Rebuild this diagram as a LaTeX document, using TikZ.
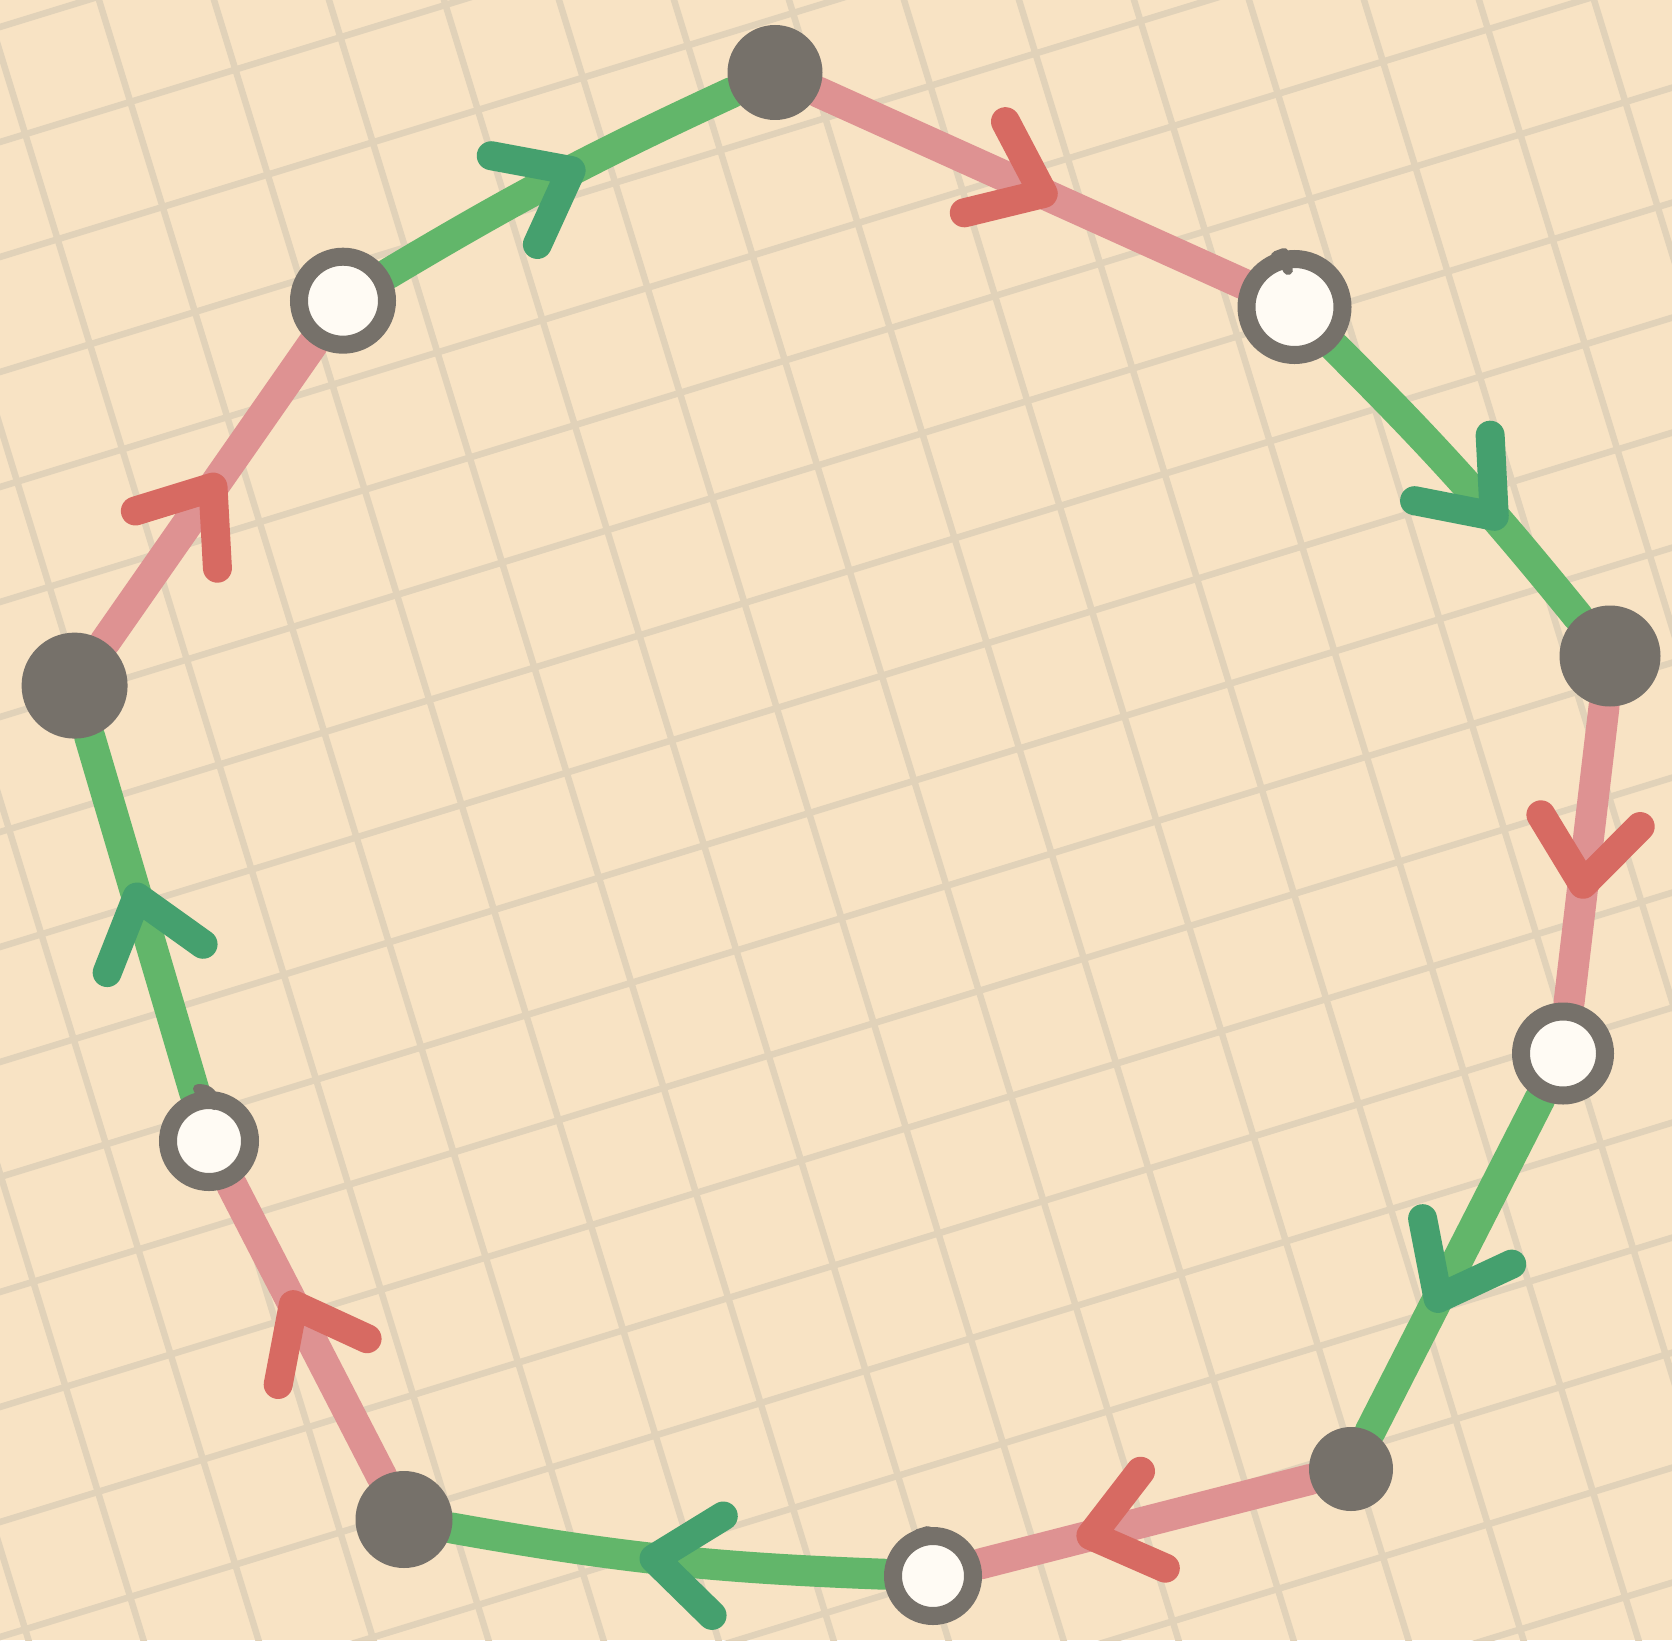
\documentclass[tikz,border=0pt]{standalone}
\usetikzlibrary{decorations.markings}
\definecolor{bgc}{RGB}{248,227,196}
\definecolor{gridc}{RGB}{225,210,185}
\definecolor{gedge}{RGB}{98,182,106}
\definecolor{garrow}{RGB}{69,160,110}
\definecolor{pedge}{RGB}{222,146,146}
\definecolor{parrow}{RGB}{215,106,98}
\definecolor{ngray}{RGB}{118,113,106}
\definecolor{nwhite}{RGB}{255,251,244}
\pgfdeclarelayer{gridlayer}
\pgfdeclarelayer{edgelayer}
\pgfsetlayers{gridlayer,edgelayer,main}
\tikzset{
 gridline/.style={draw=gridc, line width=6.5pt},
 darknode/.style={circle, fill=ngray, inner sep=0pt, minimum size=#1},
 ringnode/.style={circle, draw=ngray, line width=18pt, fill=nwhite, inner sep=0pt, minimum size=#1},
 inkstroke/.style={draw=ngray, line width=10pt, line cap=round},
 gline/.style={draw=gedge, line width=31pt, line cap=round},
 pline/.style={draw=pedge, line width=31pt, line cap=round},
 vmark/.style n args={2}{postaction={decorate}, decoration={markings, mark=at position #1 with {\draw[draw=#2, line width=29pt, line cap=round, line join=round] (-64pt,50pt) -- (0pt,0pt) -- (-64pt,-50pt);}}},
}
\begin{document}
\begin{tikzpicture}[x=1pt,y=-1pt]
\useasboundingbox (0,0) rectangle (1672,1640);
\begin{pgfonlayer}{gridlayer}
\fill[bgc] (0,0) rectangle (1672,1640);
\begin{scope}
\clip (0,0) rectangle (1672,1640);
\foreach \k in {-1,...,19} \draw[gridline] (-10,{27+115*\k+0.3076*10}) -- (1690,{27+115*\k-0.3076*1690});
\foreach \j in {-6,...,14} \draw[gridline] ({99+115*\j-0.3076*10},-10) -- ({99+115*\j+0.3076*1660},1660);
\end{scope}
\end{pgfonlayer}

\node[darknode=95pt]  (n1)  at (775,72.5) {};
\node[ringnode=96pt] (n2)  at (1294.5,307) {};
\node[darknode=101pt] (n3)  at (1610,656) {};
\node[ringnode=84pt]  (n4)  at (1563,1053.5) {};
\node[darknode=84pt]  (n5)  at (1351,1469) {};
\node[ringnode=80pt]  (n6)  at (933,1576) {};
\node[darknode=97pt]  (n7)  at (404,1519.5) {};
\node[ringnode=82pt]  (n8)  at (209,1141) {};
\node[darknode=106pt] (n9)  at (74.6,685.6) {};
\node[ringnode=88pt]  (n10) at (343,300.7) {};

% small pen marks where the rings were started
\draw[inkstroke] (1276,256) -- (1284,253);
\draw[inkstroke] (1284,262) -- (1288,270);
\draw[inkstroke] (340,253) -- (352,254);
\draw[inkstroke] (198,1089) .. controls (210,1089) and (214,1095) .. (214,1105);
\draw[inkstroke] (918,1534) -- (928,1531);

\begin{pgfonlayer}{edgelayer}
\draw[pline, vmark={0.53}{parrow}] (n1) -- (n2);
\draw[gline, vmark={0.64}{garrow}] (n2) to[bend left=3] (n3);
\draw[pline, vmark={0.60}{parrow}] (n3) -- (n4);
\draw[gline, vmark={0.60}{garrow}] (n4) -- (n5);
\draw[pline, vmark={0.665}{parrow}] (n5) -- (n6);
\draw[gline, vmark={0.53}{garrow}] (n6) to[bend left=4] (n7);
\draw[pline, vmark={0.59}{parrow}] (n7) -- (n8);
\draw[gline, vmark={0.55}{garrow}] (n8) -- (n9);
\draw[pline, vmark={0.52}{parrow}] (n9) -- (n10);
\draw[gline, vmark={0.54}{garrow}] (n10) to[bend left=3] (n1);
\end{pgfonlayer}
\end{tikzpicture}
\end{document}
